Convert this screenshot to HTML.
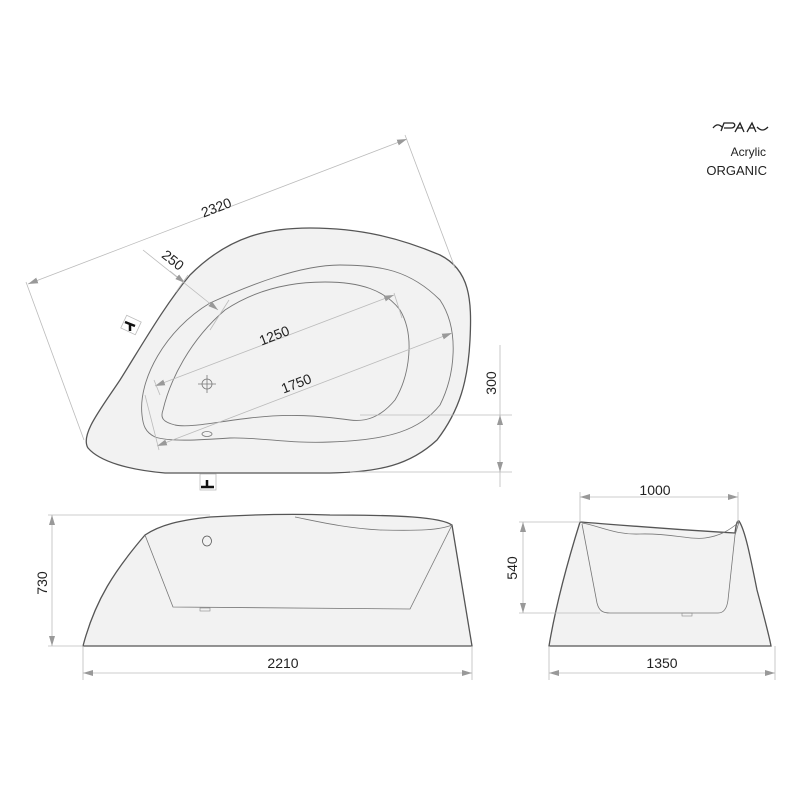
<!DOCTYPE html>
<html><head><meta charset="utf-8"><style>
html,body{margin:0;padding:0;background:#fff;}
svg{display:block;}
text{font-family:"Liberation Sans","DejaVu Sans",sans-serif;fill:#222;}
</style></head><body>
<svg width="800" height="800" viewBox="0 0 800 800" xmlns="http://www.w3.org/2000/svg">
<defs>
<marker id="a" viewBox="0 0 10 6" refX="10" refY="3" markerWidth="10" markerHeight="6" orient="auto-start-reverse" markerUnits="userSpaceOnUse"><path d="M0,0 L10,3 L0,6 z" fill="#999"/></marker>
</defs>
<!-- top view -->
<path d="M88,448 C80,435 100,410 120,380 C145,340 165,305 190,275 C230,235 270,228 310,228 C360,228 400,238 440,255 C470,270 472,300 470,340 C468,380 460,410 437,440 C410,465 380,472 330,473 L165,473 C130,470 100,462 88,448 Z" fill="#f2f2f2" stroke="#555" stroke-width="1.3"/>
<path d="M142,415 C138,380 165,330 210,303 C250,285 300,265 340,265 C380,265 410,270 440,300 C460,330 455,375 440,405 C420,430 390,440 330,442 C290,444 260,437 230,438 C200,440 170,442 155,437 C145,432 143,425 142,415 Z" fill="none" stroke="#777" stroke-width="0.9"/>
<path d="M163,410 C170,380 190,340 225,310 C255,290 290,282 325,282 C360,282 385,290 400,310 C415,335 410,375 395,400 C380,418 365,422 350,420 C320,416 290,413 250,418 C215,422 190,428 175,425 C163,422 160,418 163,410 Z" fill="none" stroke="#777" stroke-width="0.9"/>
<g stroke="#777" stroke-width="0.8" fill="none">
<circle cx="207" cy="384" r="5"/><line x1="198" y1="384" x2="216" y2="384"/><line x1="207" y1="375" x2="207" y2="393"/>
<ellipse cx="207" cy="434" rx="5" ry="2.5"/>
</g>
<!-- side view -->
<path d="M83,646 C95,600 115,570 145,535 C160,525 180,520 210,517 C260,514 300,514 330,515 C400,515 440,517 452,525 L472,646 Z" fill="#f2f2f2" stroke="#555" stroke-width="1.3"/>
<path d="M145,535 L173,607 L410,609 L452,525" fill="none" stroke="#777" stroke-width="0.8"/>
<path d="M295,517 C320,522 345,528 380,530 C420,531 440,530 452,525" fill="none" stroke="#777" stroke-width="0.8"/>
<ellipse cx="207" cy="541" rx="4.5" ry="5" fill="none" stroke="#555" stroke-width="0.8"/>
<rect x="200" y="608" width="10" height="3" fill="none" stroke="#888" stroke-width="0.6"/>
<!-- end view -->
<path d="M549,646 C555,610 565,570 580,522 C620,525 680,530 735,533 C736,525 737,520 739,521 C745,530 750,555 757,590 C765,620 770,640 771,646 Z" fill="#f2f2f2" stroke="#555" stroke-width="1.3"/>
<path d="M582,524 L597,603 C599,611 603,613 610,613 L718,613 C724,613 727,608 728,600 L735,535 L739,522" fill="none" stroke="#777" stroke-width="0.8"/>
<path d="M582,523 C600,526 615,535 640,534 C670,533 690,540 705,538 C720,536 730,530 739,522" fill="none" stroke="#777" stroke-width="0.8"/>
<rect x="682" y="613" width="10" height="3" fill="none" stroke="#888" stroke-width="0.6"/>
<g fill="none" stroke="#bbb" stroke-width="0.8">
<line x1="28" y1="284" x2="407" y2="139" marker-start="url(#a)" marker-end="url(#a)"/>
<line x1="26" y1="282" x2="84" y2="440"/>
<line x1="405" y1="135" x2="455" y2="268"/>
<line x1="143" y1="250" x2="218" y2="310" marker-end="url(#a)"/>
<line x1="170" y1="271" x2="185" y2="283" marker-end="url(#a)"/>
<line x1="188" y1="275" x2="176" y2="292"/>
<line x1="229" y1="300" x2="210" y2="330"/>
<line x1="155" y1="386" x2="394" y2="295" marker-start="url(#a)" marker-end="url(#a)"/>
<line x1="394" y1="293" x2="402" y2="318"/>
<line x1="154" y1="380" x2="160" y2="395"/>
<line x1="157" y1="446" x2="452" y2="333" marker-start="url(#a)" marker-end="url(#a)"/>
<line x1="145" y1="395" x2="159" y2="450"/>
<line x1="500" y1="345" x2="500" y2="487"/>
<line x1="500" y1="430" x2="500" y2="415" marker-end="url(#a)"/>
<line x1="500" y1="460" x2="500" y2="472" marker-end="url(#a)"/>
<line x1="360" y1="415" x2="512" y2="415"/>
<line x1="350" y1="472" x2="512" y2="472"/>
<line x1="52" y1="515" x2="52" y2="646" marker-start="url(#a)" marker-end="url(#a)"/>
<line x1="48" y1="515" x2="210" y2="515"/>
<line x1="48" y1="646" x2="83" y2="646"/>
<line x1="83" y1="673" x2="472" y2="673" marker-start="url(#a)" marker-end="url(#a)"/>
<line x1="83" y1="646" x2="83" y2="680"/>
<line x1="472" y1="646" x2="472" y2="680"/>
<line x1="580" y1="497" x2="738" y2="497" marker-start="url(#a)" marker-end="url(#a)"/>
<line x1="580" y1="492" x2="580" y2="522"/>
<line x1="738" y1="492" x2="738" y2="522"/>
<line x1="523" y1="522" x2="523" y2="613" marker-start="url(#a)" marker-end="url(#a)"/>
<line x1="519" y1="522" x2="580" y2="522"/>
<line x1="519" y1="613" x2="600" y2="613"/>
<line x1="549" y1="673" x2="775" y2="673" marker-start="url(#a)" marker-end="url(#a)"/>
<line x1="549" y1="646" x2="549" y2="680"/>
<line x1="775" y1="646" x2="775" y2="680"/>
</g>
<!-- faucets -->
<g>
<rect x="123" y="318" width="16" height="14" fill="#fff" stroke="#bbb" stroke-width="0.8" transform="rotate(25 131 325)"/>
<path d="M125,322 L135,326 M130,324 L130,331" stroke="#111" stroke-width="2.5" fill="none"/>
<rect x="200" y="474" width="16" height="16" fill="#fff" stroke="#bbb" stroke-width="0.8"/>
<path d="M201,487 L214,487 M207,480 L207,487" stroke="#111" stroke-width="2.5" fill="none"/>
</g>
<g font-size="14">
<text x="218" y="212" text-anchor="middle" transform="rotate(-21 218 212)">2320</text>
<text x="170" y="264" text-anchor="middle" transform="rotate(38 170 264)">250</text>
<text x="276" y="340" text-anchor="middle" transform="rotate(-21 276 340)">1250</text>
<text x="298" y="388" text-anchor="middle" transform="rotate(-21 298 388)">1750</text>
<text x="496" y="383" text-anchor="middle" transform="rotate(-90 496 383)">300</text>
<text x="47" y="583" text-anchor="middle" transform="rotate(-90 47 583)">730</text>
<text x="283" y="668" text-anchor="middle">2210</text>
<text x="655" y="495" text-anchor="middle">1000</text>
<text x="517" y="568" text-anchor="middle" transform="rotate(-90 517 568)">540</text>
<text x="662" y="668" text-anchor="middle">1350</text>
</g>
<!-- logo -->
<path d="M713,128 C716,124 719,124 722,127 M721,131 L724,123 L733,123 C736,124 735,128 731,128 L724,128 M735,132 L740,123 L744,132 M737,128 L743,128 M747,132 L752,123 L756,132 M749,128 L755,128 M757,127 C761,131 764,131 768,127" fill="none" stroke="#222" stroke-width="1.3"/>
<text x="766" y="156" font-size="12" text-anchor="end" font-family="Liberation Serif,serif">Acrylic</text>
<text x="767" y="175" font-size="13" text-anchor="end">ORGANIC</text>
</svg>
</body></html>
